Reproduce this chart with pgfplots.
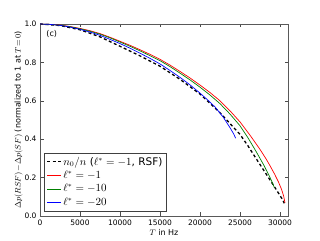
\documentclass[border=0pt]{standalone}
\usepackage{fontspec}
\setmainfont{DejaVu Sans}
\usepackage{pgfplots}
\pgfplotsset{compat=1.18}
\definecolor{mplgreen}{rgb}{0,0.5,0}
\begin{document}
\begin{tikzpicture}[x=1pt,y=1pt]
\useasboundingbox (0,0) rectangle (320,240);
\begin{axis}[
  at={(40pt,24pt)}, anchor=south west,
  scale only axis, width=248pt, height=192pt,
  xmin=0, xmax=31000, ymin=0, ymax=1,
  xtick={0,5000,10000,15000,20000,25000,30000},
  ytick={0,0.2,0.4,0.6,0.8,1.0},
  scaled x ticks=false,
  xticklabel style={/pgf/number format/set thousands separator={}},
  yticklabel style={/pgf/number format/.cd, fixed, fixed zerofill, precision=1},
  /pgf/number format/assume math mode=true,
  tick label style={font=\fontsize{7.5}{8}\selectfont},
  tick align=inside, major tick length=3.5pt,
  xtick pos=both, ytick pos=both,
  axis line style={black!65},
  every tick/.style={black!70},
  xlabel={$T$ in Hz},
  ylabel={$\Delta p(RSF)\!-\!\Delta p(SF)$ (normalized to 1 at $T\!=\!0$)},
  label style={font=\fontsize{8}{9}\selectfont},
  xlabel style={yshift=3pt},
  ylabel style={yshift=-5pt},
  legend style={at={(0.017,0.026)}, anchor=south west, draw=black!75,
    font=\fontsize{10.5}{11}\selectfont, row sep=0.3pt, inner sep=2pt},
  legend cell align=left,
  legend image post style={xscale=0.8},
]
\addplot[black, line width=1.3pt, dash pattern=on 3pt off 2.5pt] coordinates {
(0,1.000) (2500,0.992) (5000,0.970) (7500,0.933) (10000,0.884) (12500,0.834)
(15000,0.780) (17500,0.712) (20000,0.635) (22500,0.538) (25000,0.425)
(26000,0.365) (27000,0.300) (28000,0.236) (29000,0.172) (29800,0.120)
(30250,0.090) (30540,0.066)};
\addlegendentry{$n_0/n$ ($\ell^* = -1$, RSF)}
\addplot[red, line width=0.7pt] coordinates {
(0,1.000) (1250,0.998) (2500,0.994) (3750,0.987) (5000,0.977) (6250,0.965)
(7500,0.950) (8750,0.931) (10000,0.910) (11250,0.889) (12500,0.866)
(13750,0.842) (15000,0.816) (16250,0.786) (17500,0.753) (18750,0.719)
(20000,0.682) (21250,0.643) (22500,0.600) (23750,0.548) (25000,0.490)
(26250,0.421) (27500,0.347) (28250,0.298) (28750,0.262) (29300,0.220)
(29800,0.178) (30200,0.138) (30450,0.105) (30625,0.069)};
\addlegendentry{$\ell^* = -1$}
\addplot[mplgreen, line width=0.7pt] coordinates {
(0,1.000) (1250,0.998) (2500,0.993) (3750,0.986) (5000,0.975) (6250,0.962)
(7500,0.947) (8750,0.928) (10000,0.906) (11250,0.884) (12500,0.860)
(13750,0.835) (15000,0.809) (16250,0.778) (17500,0.744) (18750,0.709)
(20000,0.671) (21250,0.630) (22500,0.585) (23750,0.531) (25000,0.470)
(26000,0.407) (27000,0.337) (28000,0.263) (28700,0.205) (29000,0.178)
(29292,0.148)};
\addlegendentry{$\ell^* = -10$}
\addplot[blue, line width=0.7pt] coordinates {
(0,1.000) (1250,0.998) (2500,0.993) (3750,0.984) (5000,0.972) (6250,0.958)
(7500,0.941) (8750,0.920) (10000,0.898) (11250,0.874) (12500,0.848)
(13750,0.821) (15000,0.792) (16250,0.758) (17500,0.722) (18750,0.683)
(20000,0.640) (21000,0.603) (21875,0.568) (22900,0.515) (23750,0.460)
(24200,0.428) (24460,0.405)};
\addlegendentry{$\ell^* = -20$}
\node[anchor=north west, font=\fontsize{8}{9}\selectfont, inner sep=0pt] at (rel axis cs:0.025,0.965) {(c)};
\end{axis}
\end{tikzpicture}
\end{document}
